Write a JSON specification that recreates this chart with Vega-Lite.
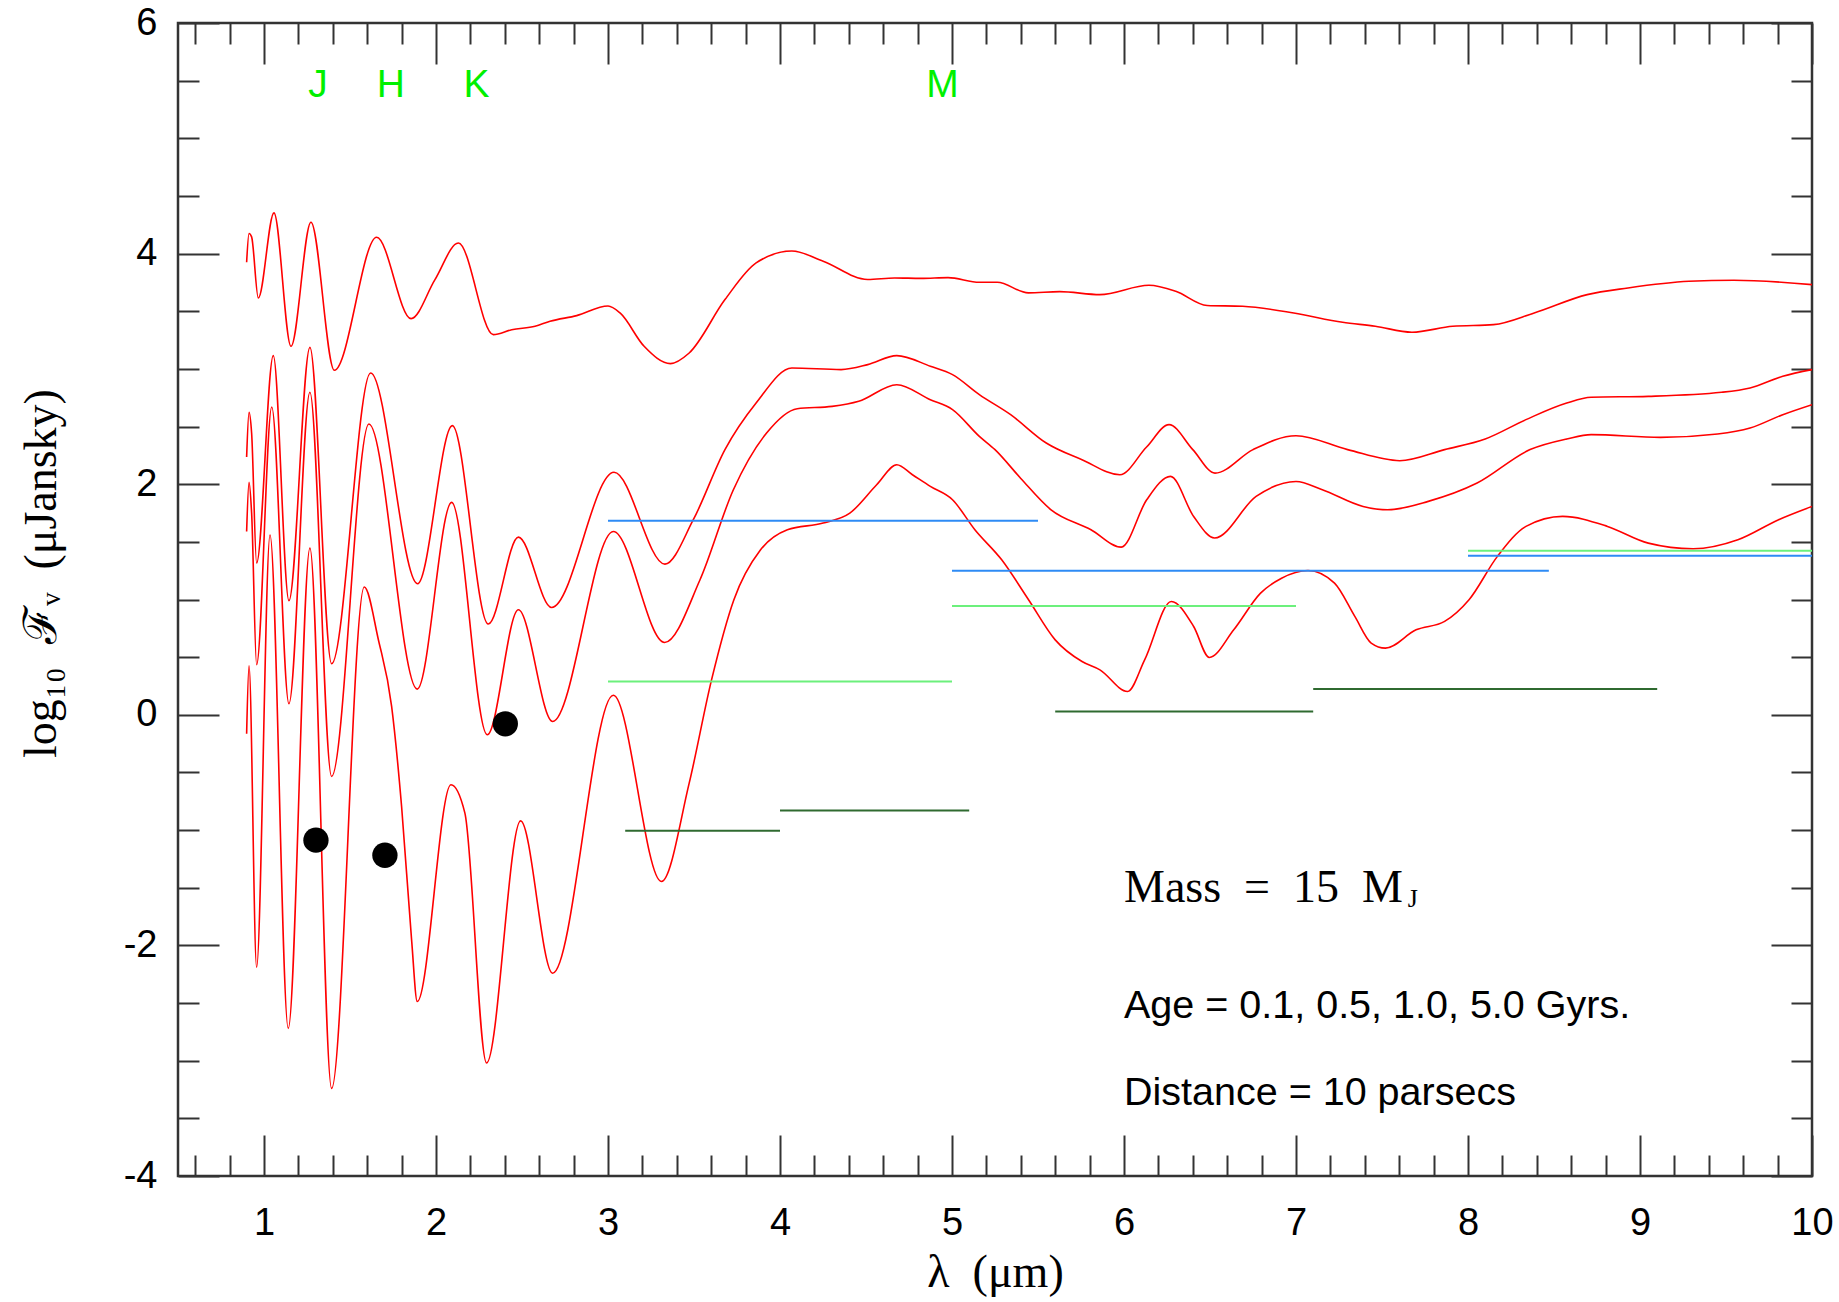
{
  "$schema": "https://vega.github.io/schema/vega-lite/v6.json",
  "width": 1634,
  "height": 1153,
  "autosize": {"type": "none"},
  "padding": {"left": 178, "top": 23, "right": 27, "bottom": 126},
  "background": "white",
  "config": {
    "view": {"stroke": "#333333", "strokeWidth": 2.5},
    "axis": {"grid": false, "domain": false, "tickColor": "#333333", "tickWidth": 2, "labelFlush": false, "labelOverlap": false, "labelBound": false, "labelColor": "black", "titleColor": "black"}
  },
  "datasets": {
    "curves": [
      {"age": "0.1", "x": 0.899, "y": 3.925}, {"age": "0.1", "x": 0.913, "y": 4.174}, {"age": "0.1", "x": 0.928, "y": 4.145}, {"age": "0.1", "x": 0.967, "y": 3.615},
      {"age": "0.1", "x": 1.058, "y": 4.353}, {"age": "0.1", "x": 1.157, "y": 3.196}, {"age": "0.1", "x": 1.273, "y": 4.272}, {"age": "0.1", "x": 1.409, "y": 2.988},
      {"age": "0.1", "x": 1.655, "y": 4.142}, {"age": "0.1", "x": 1.855, "y": 3.436}, {"age": "0.1", "x": 1.994, "y": 3.774}, {"age": "0.1", "x": 2.13, "y": 4.092},
      {"age": "0.1", "x": 2.333, "y": 3.297}, {"age": "0.1", "x": 2.44, "y": 3.34}, {"age": "0.1", "x": 2.576, "y": 3.37}, {"age": "0.1", "x": 2.663, "y": 3.413},
      {"age": "0.1", "x": 2.818, "y": 3.462}, {"age": "0.1", "x": 3.0, "y": 3.545}, {"age": "0.1", "x": 3.07, "y": 3.485}, {"age": "0.1", "x": 3.21, "y": 3.196},
      {"age": "0.1", "x": 3.363, "y": 3.046}, {"age": "0.1", "x": 3.472, "y": 3.138}, {"age": "0.1", "x": 3.68, "y": 3.601}, {"age": "0.1", "x": 3.861, "y": 3.919},
      {"age": "0.1", "x": 4.069, "y": 4.022}, {"age": "0.1", "x": 4.251, "y": 3.934}, {"age": "0.1", "x": 4.51, "y": 3.775}, {"age": "0.1", "x": 4.666, "y": 3.789},
      {"age": "0.1", "x": 4.82, "y": 3.785}, {"age": "0.1", "x": 4.977, "y": 3.792}, {"age": "0.1", "x": 5.159, "y": 3.751}, {"age": "0.1", "x": 5.263, "y": 3.751},
      {"age": "0.1", "x": 5.444, "y": 3.659}, {"age": "0.1", "x": 5.626, "y": 3.67}, {"age": "0.1", "x": 5.86, "y": 3.644}, {"age": "0.1", "x": 6.145, "y": 3.725},
      {"age": "0.1", "x": 6.301, "y": 3.673}, {"age": "0.1", "x": 6.483, "y": 3.55}, {"age": "0.1", "x": 6.69, "y": 3.543}, {"age": "0.1", "x": 6.987, "y": 3.485},
      {"age": "0.1", "x": 7.271, "y": 3.404}, {"age": "0.1", "x": 7.461, "y": 3.37}, {"age": "0.1", "x": 7.674, "y": 3.318}, {"age": "0.1", "x": 7.911, "y": 3.37},
      {"age": "0.1", "x": 8.148, "y": 3.384}, {"age": "0.1", "x": 8.385, "y": 3.485}, {"age": "0.1", "x": 8.693, "y": 3.644}, {"age": "0.1", "x": 8.93, "y": 3.702},
      {"age": "0.1", "x": 9.285, "y": 3.76}, {"age": "0.1", "x": 9.546, "y": 3.769}, {"age": "0.1", "x": 10.0, "y": 3.731},

      {"age": "0.5", "x": 0.899, "y": 2.236}, {"age": "0.5", "x": 0.913, "y": 2.623}, {"age": "0.5", "x": 0.928, "y": 2.444}, {"age": "0.5", "x": 0.957, "y": 1.316},
      {"age": "0.5", "x": 1.054, "y": 3.115}, {"age": "0.5", "x": 1.145, "y": 0.99}, {"age": "0.5", "x": 1.267, "y": 3.187}, {"age": "0.5", "x": 1.393, "y": 0.443},
      {"age": "0.5", "x": 1.62, "y": 2.965}, {"age": "0.5", "x": 1.893, "y": 1.137}, {"age": "0.5", "x": 2.095, "y": 2.508}, {"age": "0.5", "x": 2.304, "y": 0.787},
      {"age": "0.5", "x": 2.479, "y": 1.541}, {"age": "0.5", "x": 2.672, "y": 0.931}, {"age": "0.5", "x": 3.035, "y": 2.103}, {"age": "0.5", "x": 3.331, "y": 1.307},
      {"age": "0.5", "x": 3.496, "y": 1.692}, {"age": "0.5", "x": 3.68, "y": 2.3}, {"age": "0.5", "x": 3.861, "y": 2.704}, {"age": "0.5", "x": 4.069, "y": 3.008},
      {"age": "0.5", "x": 4.355, "y": 2.994}, {"age": "0.5", "x": 4.51, "y": 3.037}, {"age": "0.5", "x": 4.679, "y": 3.115}, {"age": "0.5", "x": 4.874, "y": 3.023},
      {"age": "0.5", "x": 5.003, "y": 2.95}, {"age": "0.5", "x": 5.159, "y": 2.777}, {"age": "0.5", "x": 5.341, "y": 2.603}, {"age": "0.5", "x": 5.548, "y": 2.357},
      {"age": "0.5", "x": 5.756, "y": 2.212}, {"age": "0.5", "x": 5.976, "y": 2.082}, {"age": "0.5", "x": 6.13, "y": 2.32}, {"age": "0.5", "x": 6.262, "y": 2.517},
      {"age": "0.5", "x": 6.4, "y": 2.3}, {"age": "0.5", "x": 6.529, "y": 2.096}, {"age": "0.5", "x": 6.75, "y": 2.3}, {"age": "0.5", "x": 7.0, "y": 2.42},
      {"age": "0.5", "x": 7.3, "y": 2.3}, {"age": "0.5", "x": 7.603, "y": 2.204}, {"age": "0.5", "x": 7.864, "y": 2.3}, {"age": "0.5", "x": 8.1, "y": 2.392},
      {"age": "0.5", "x": 8.337, "y": 2.56}, {"age": "0.5", "x": 8.574, "y": 2.704}, {"age": "0.5", "x": 8.716, "y": 2.754}, {"age": "0.5", "x": 9.048, "y": 2.762},
      {"age": "0.5", "x": 9.474, "y": 2.797}, {"age": "0.5", "x": 9.64, "y": 2.835}, {"age": "0.5", "x": 9.83, "y": 2.936}, {"age": "0.5", "x": 10.0, "y": 2.994},

      {"age": "1.0", "x": 0.899, "y": 1.59}, {"age": "1.0", "x": 0.913, "y": 2.016}, {"age": "1.0", "x": 0.928, "y": 1.75}, {"age": "1.0", "x": 0.957, "y": 0.434},
      {"age": "1.0", "x": 1.045, "y": 2.67}, {"age": "1.0", "x": 1.145, "y": 0.096}, {"age": "1.0", "x": 1.267, "y": 2.797}, {"age": "1.0", "x": 1.393, "y": -0.535},
      {"age": "1.0", "x": 1.61, "y": 2.522}, {"age": "1.0", "x": 1.891, "y": 0.223}, {"age": "1.0", "x": 2.091, "y": 1.842}, {"age": "1.0", "x": 2.298, "y": -0.173},
      {"age": "1.0", "x": 2.479, "y": 0.911}, {"age": "1.0", "x": 2.678, "y": -0.058}, {"age": "1.0", "x": 3.031, "y": 1.59}, {"age": "1.0", "x": 3.329, "y": 0.627},
      {"age": "1.0", "x": 3.535, "y": 1.171}, {"age": "1.0", "x": 3.729, "y": 1.952}, {"age": "1.0", "x": 3.922, "y": 2.444}, {"age": "1.0", "x": 4.1, "y": 2.655},
      {"age": "1.0", "x": 4.303, "y": 2.675}, {"age": "1.0", "x": 4.458, "y": 2.719}, {"age": "1.0", "x": 4.679, "y": 2.863}, {"age": "1.0", "x": 4.874, "y": 2.733},
      {"age": "1.0", "x": 5.003, "y": 2.647}, {"age": "1.0", "x": 5.159, "y": 2.415}, {"age": "1.0", "x": 5.25, "y": 2.3}, {"age": "1.0", "x": 5.4, "y": 2.05},
      {"age": "1.0", "x": 5.574, "y": 1.78}, {"age": "1.0", "x": 5.808, "y": 1.605}, {"age": "1.0", "x": 5.984, "y": 1.454}, {"age": "1.0", "x": 6.132, "y": 1.865},
      {"age": "1.0", "x": 6.27, "y": 2.068}, {"age": "1.0", "x": 6.405, "y": 1.72}, {"age": "1.0", "x": 6.527, "y": 1.533}, {"age": "1.0", "x": 6.768, "y": 1.894},
      {"age": "1.0", "x": 7.0, "y": 2.024}, {"age": "1.0", "x": 7.153, "y": 1.952}, {"age": "1.0", "x": 7.39, "y": 1.807}, {"age": "1.0", "x": 7.532, "y": 1.778},
      {"age": "1.0", "x": 7.769, "y": 1.851}, {"age": "1.0", "x": 8.053, "y": 2.01}, {"age": "1.0", "x": 8.361, "y": 2.3}, {"age": "1.0", "x": 8.574, "y": 2.392},
      {"age": "1.0", "x": 8.716, "y": 2.43}, {"age": "1.0", "x": 9.119, "y": 2.406}, {"age": "1.0", "x": 9.451, "y": 2.435}, {"age": "1.0", "x": 9.64, "y": 2.487},
      {"age": "1.0", "x": 9.83, "y": 2.603}, {"age": "1.0", "x": 10.0, "y": 2.69},

      {"age": "5.0", "x": 0.899, "y": -0.165}, {"age": "5.0", "x": 0.913, "y": 0.425}, {"age": "5.0", "x": 0.957, "y": -2.19}, {"age": "5.0", "x": 1.035, "y": 1.56},
      {"age": "5.0", "x": 1.141, "y": -2.72}, {"age": "5.0", "x": 1.267, "y": 1.446}, {"age": "5.0", "x": 1.393, "y": -3.24}, {"age": "5.0", "x": 1.583, "y": 1.108},
      {"age": "5.0", "x": 1.665, "y": 0.651}, {"age": "5.0", "x": 1.742, "y": 0.073}, {"age": "5.0", "x": 1.8, "y": -0.795}, {"age": "5.0", "x": 1.858, "y": -1.95},
      {"age": "5.0", "x": 1.891, "y": -2.487}, {"age": "5.0", "x": 2.087, "y": -0.607}, {"age": "5.0", "x": 2.168, "y": -0.853}, {"age": "5.0", "x": 2.294, "y": -3.02},
      {"age": "5.0", "x": 2.492, "y": -0.92}, {"age": "5.0", "x": 2.678, "y": -2.241}, {"age": "5.0", "x": 3.031, "y": 0.17}, {"age": "5.0", "x": 3.311, "y": -1.446},
      {"age": "5.0", "x": 3.472, "y": -0.593}, {"age": "5.0", "x": 3.602, "y": 0.303}, {"age": "5.0", "x": 3.732, "y": 0.998}, {"age": "5.0", "x": 3.887, "y": 1.431},
      {"age": "5.0", "x": 4.043, "y": 1.605}, {"age": "5.0", "x": 4.251, "y": 1.663}, {"age": "5.0", "x": 4.406, "y": 1.749}, {"age": "5.0", "x": 4.562, "y": 1.995},
      {"age": "5.0", "x": 4.679, "y": 2.169}, {"age": "5.0", "x": 4.77, "y": 2.082}, {"age": "5.0", "x": 4.874, "y": 1.981}, {"age": "5.0", "x": 5.003, "y": 1.865},
      {"age": "5.0", "x": 5.133, "y": 1.605}, {"age": "5.0", "x": 5.289, "y": 1.344}, {"age": "5.0", "x": 5.445, "y": 0.998}, {"age": "5.0", "x": 5.6, "y": 0.65},
      {"age": "5.0", "x": 5.756, "y": 0.462}, {"age": "5.0", "x": 5.86, "y": 0.39}, {"age": "5.0", "x": 6.021, "y": 0.202}, {"age": "5.0", "x": 6.12, "y": 0.477},
      {"age": "5.0", "x": 6.275, "y": 0.983}, {"age": "5.0", "x": 6.405, "y": 0.766}, {"age": "5.0", "x": 6.496, "y": 0.497}, {"age": "5.0", "x": 6.638, "y": 0.737},
      {"age": "5.0", "x": 6.794, "y": 1.055}, {"age": "5.0", "x": 6.916, "y": 1.185}, {"age": "5.0", "x": 7.07, "y": 1.252}, {"age": "5.0", "x": 7.224, "y": 1.142},
      {"age": "5.0", "x": 7.342, "y": 0.853}, {"age": "5.0", "x": 7.437, "y": 0.622}, {"age": "5.0", "x": 7.52, "y": 0.578}, {"age": "5.0", "x": 7.698, "y": 0.737},
      {"age": "5.0", "x": 7.864, "y": 0.81}, {"age": "5.0", "x": 8.006, "y": 0.998}, {"age": "5.0", "x": 8.171, "y": 1.374}, {"age": "5.0", "x": 8.337, "y": 1.634},
      {"age": "5.0", "x": 8.55, "y": 1.721}, {"age": "5.0", "x": 8.811, "y": 1.634}, {"age": "5.0", "x": 9.048, "y": 1.489}, {"age": "5.0", "x": 9.309, "y": 1.44},
      {"age": "5.0", "x": 9.569, "y": 1.518}, {"age": "5.0", "x": 9.806, "y": 1.692}, {"age": "5.0", "x": 10.0, "y": 1.807}
    ],
    "segments": [
      {"kind": "blue", "x": 3.0, "x2": 5.5, "y": 1.683},
      {"kind": "blue", "x": 5.0, "x2": 8.47, "y": 1.25},
      {"kind": "blue", "x": 8.0, "x2": 10.0, "y": 1.38},
      {"kind": "light", "x": 3.0, "x2": 5.0, "y": 0.289},
      {"kind": "light", "x": 5.0, "x2": 7.0, "y": 0.943},
      {"kind": "light", "x": 8.0, "x2": 10.0, "y": 1.423},
      {"kind": "dark", "x": 3.1, "x2": 4.0, "y": -1.005},
      {"kind": "dark", "x": 4.0, "x2": 5.1, "y": -0.83},
      {"kind": "dark", "x": 5.6, "x2": 7.1, "y": 0.029},
      {"kind": "dark", "x": 7.1, "x2": 9.1, "y": 0.223}
    ],
    "dots": [
      {"x": 1.302, "y": -1.087},
      {"x": 1.703, "y": -1.218},
      {"x": 2.403, "y": -0.078}
    ],
    "bands": [
      {"x": 1.314, "y": 5.36, "label": "J"},
      {"x": 1.738, "y": 5.36, "label": "H"},
      {"x": 2.235, "y": 5.36, "label": "K"},
      {"x": 4.945, "y": 5.36, "label": "M"}
    ],
    "notes": [
      {"x": 6.0, "y": -2.632, "label": "Age = 0.1, 0.5, 1.0, 5.0 Gyrs."},
      {"x": 6.0, "y": -3.384, "label": "Distance = 10 parsecs"}
    ],
    "mass": [
      {"x": 6.0, "y": -1.62, "label": "Mass\u00a0\u00a0=\u00a0\u00a015\u00a0\u00a0M"}
    ],
    "sub": [
      {"x": 7.65, "y": -1.67, "label": "J"}
    ]
  },
  "resolve": {"axis": {"x": "independent", "y": "independent"}},
  "layer": [
    {
      "data": {"name": "curves"},
      "mark": {"type": "line", "color": "#ff0000", "strokeWidth": 1.6, "interpolate": "monotone", "clip": true},
      "encoding": {
        "x": {"field": "x", "type": "quantitative", "scale": {"domain": [0.5, 10], "nice": false, "zero": false},
          "axis": {"orient": "bottom", "values": [1, 2, 3, 4, 5, 6, 7, 8, 9, 10], "tickSize": -41, "labelPadding": 69,
            "labelFont": "Liberation Sans", "labelFontSize": 38, "title": "\u03bb\u00a0\u00a0(\u03bcm)",
            "titleFont": "Liberation Serif", "titleFontSize": 46, "titleFontWeight": "normal", "titleY": 96, "titleBaseline": "middle"}},
        "y": {"field": "y", "type": "quantitative", "scale": {"domain": [-4, 6], "nice": false, "zero": false},
          "axis": {"orient": "left", "values": [-4, -2, 0, 2, 4, 6], "tickSize": -41, "labelPadding": 62,
            "labelFont": "Liberation Sans", "labelFontSize": 38, "labelExpr": "replace(datum.label, '\u2212', '-')",
            "title": "log\u2081\u2080\u00a0\u00a0\u2131\u1d65\u00a0\u00a0(\u03bcJansky)",
            "titleFont": "Liberation Serif", "titleFontSize": 46, "titleFontWeight": "normal",
            "titleAngle": -90, "titleX": -137, "titleY": 550, "titleBaseline": "middle", "titleAlign": "center"}},
        "detail": {"field": "age", "type": "nominal"}
      }
    },
    {
      "data": {"name": "segments"},
      "mark": {"type": "rule", "strokeWidth": 2},
      "encoding": {
        "x": {"field": "x", "type": "quantitative", "scale": {"domain": [0.5, 10], "nice": false, "zero": false},
          "axis": {"orient": "bottom", "values": [0.6, 0.8, 1.2, 1.4, 1.6, 1.8, 2.2, 2.4, 2.6, 2.8, 3.2, 3.4, 3.6, 3.8, 4.2, 4.4, 4.6, 4.8, 5.2, 5.4, 5.6, 5.8, 6.2, 6.4, 6.6, 6.8, 7.2, 7.4, 7.6, 7.8, 8.2, 8.4, 8.6, 8.8, 9.2, 9.4, 9.6, 9.8], "tickSize": -21, "labels": false, "title": null}},
        "x2": {"field": "x2"},
        "y": {"field": "y", "type": "quantitative", "scale": {"domain": [-4, 6], "nice": false, "zero": false},
          "axis": {"orient": "left", "values": [-3.5, -3, -2.5, -1.5, -1, -0.5, 0.5, 1, 1.5, 2.5, 3, 3.5, 4.5, 5, 5.5], "tickSize": -21, "labels": false, "title": null}},
        "color": {"field": "kind", "type": "nominal", "legend": null,
          "scale": {"domain": ["blue", "light", "dark"], "range": ["#2e8bf5", "#6cf07c", "#2f6a30"]}}
      }
    },
    {
      "data": {"name": "dots"},
      "mark": {"type": "point", "filled": true, "color": "black", "opacity": 1, "size": 640},
      "encoding": {
        "x": {"field": "x", "type": "quantitative", "scale": {"domain": [0.5, 10], "nice": false, "zero": false},
          "axis": {"orient": "top", "values": [1, 2, 3, 4, 5, 6, 7, 8, 9, 10], "tickSize": -41, "labels": false, "title": null}},
        "y": {"field": "y", "type": "quantitative", "scale": {"domain": [-4, 6], "nice": false, "zero": false},
          "axis": {"orient": "right", "values": [-4, -2, 0, 2, 4, 6], "tickSize": -41, "labels": false, "title": null}}
      }
    },
    {
      "data": {"name": "bands"},
      "mark": {"type": "text", "color": "#00f000", "font": "Liberation Sans", "fontSize": 39, "align": "center", "baseline": "alphabetic"},
      "encoding": {
        "x": {"field": "x", "type": "quantitative", "scale": {"domain": [0.5, 10], "nice": false, "zero": false},
          "axis": {"orient": "top", "values": [0.6, 0.8, 1.2, 1.4, 1.6, 1.8, 2.2, 2.4, 2.6, 2.8, 3.2, 3.4, 3.6, 3.8, 4.2, 4.4, 4.6, 4.8, 5.2, 5.4, 5.6, 5.8, 6.2, 6.4, 6.6, 6.8, 7.2, 7.4, 7.6, 7.8, 8.2, 8.4, 8.6, 8.8, 9.2, 9.4, 9.6, 9.8], "tickSize": -21, "labels": false, "title": null}},
        "y": {"field": "y", "type": "quantitative", "scale": {"domain": [-4, 6], "nice": false, "zero": false},
          "axis": {"orient": "right", "values": [-3.5, -3, -2.5, -1.5, -1, -0.5, 0.5, 1, 1.5, 2.5, 3, 3.5, 4.5, 5, 5.5], "tickSize": -21, "labels": false, "title": null}},
        "text": {"field": "label"}
      }
    },
    {
      "data": {"name": "notes"},
      "mark": {"type": "text", "color": "black", "font": "Liberation Sans", "fontSize": 39.5, "align": "left", "baseline": "alphabetic"},
      "encoding": {
        "x": {"field": "x", "type": "quantitative", "scale": {"domain": [0.5, 10], "nice": false, "zero": false}, "axis": null},
        "y": {"field": "y", "type": "quantitative", "scale": {"domain": [-4, 6], "nice": false, "zero": false}, "axis": null},
        "text": {"field": "label"}
      }
    },
    {
      "data": {"name": "mass"},
      "mark": {"type": "text", "color": "black", "font": "Liberation Serif", "fontSize": 46, "align": "left", "baseline": "alphabetic"},
      "encoding": {
        "x": {"field": "x", "type": "quantitative", "scale": {"domain": [0.5, 10], "nice": false, "zero": false}, "axis": null},
        "y": {"field": "y", "type": "quantitative", "scale": {"domain": [-4, 6], "nice": false, "zero": false}, "axis": null},
        "text": {"field": "label"}
      }
    },
    {
      "data": {"name": "sub"},
      "mark": {"type": "text", "color": "black", "font": "Liberation Serif", "fontSize": 26, "align": "left", "baseline": "alphabetic"},
      "encoding": {
        "x": {"field": "x", "type": "quantitative", "scale": {"domain": [0.5, 10], "nice": false, "zero": false}, "axis": null},
        "y": {"field": "y", "type": "quantitative", "scale": {"domain": [-4, 6], "nice": false, "zero": false}, "axis": null},
        "text": {"field": "label"}
      }
    }
  ]
}
